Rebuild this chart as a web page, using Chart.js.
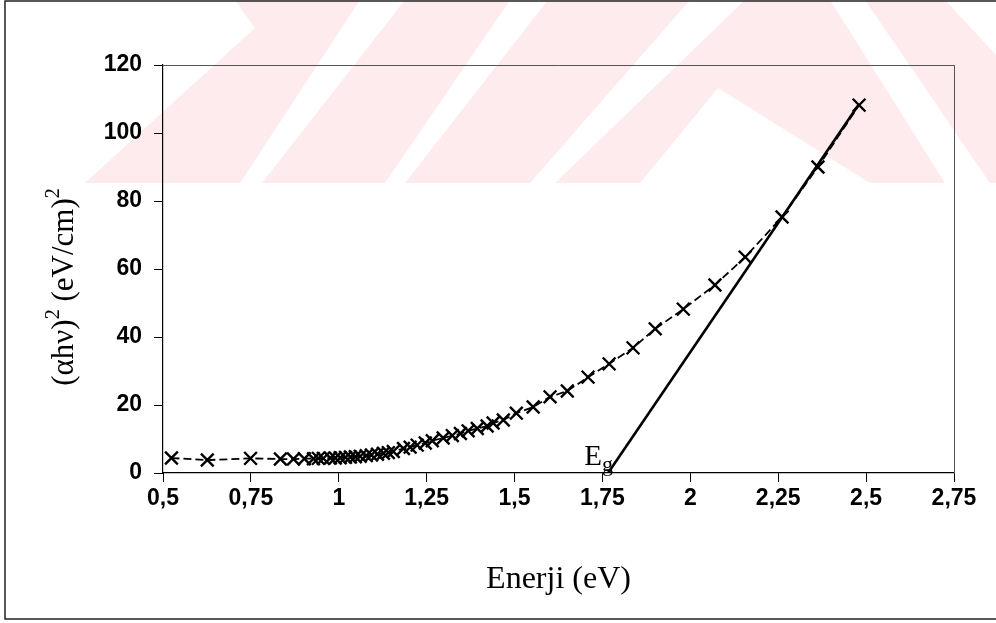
<!DOCTYPE html>
<html>
<head>
<meta charset="utf-8">
<script src="https://cdn.jsdelivr.net/npm/chart.js@4/dist/chart.umd.min.js"></script>
<style>
  html, body { margin: 0; padding: 0; background: #ffffff; }
  #wrap { width: 996px; height: 623px; position: relative; }
</style>
</head>
<body>
<div id="wrap"><canvas id="c" width="996" height="623"></canvas></div>
<script>
// ---- data ----
const energy = [
  0.524, 0.626, 0.749, 0.834, 0.871,
  0.902, 0.928, 0.942, 0.956, 0.976, 0.990, 1.004, 1.019, 1.033, 1.047,
  1.061, 1.078, 1.093, 1.110, 1.127, 1.141, 1.155, 1.184, 1.203, 1.223,
  1.246, 1.266, 1.297, 1.323, 1.346, 1.368, 1.394, 1.422, 1.439, 1.468,
  1.505, 1.553, 1.601, 1.650, 1.709, 1.769, 1.837, 1.900, 1.980, 2.070,
  2.156, 2.261, 2.363, 2.480
];
const alphaHv2 = [
  4.4, 3.8, 4.3, 4.1, 4.1,
  4.2, 4.2, 4.3, 4.3, 4.4, 4.4, 4.5, 4.6, 4.7, 4.8,
  4.9, 5.1, 5.3, 5.5, 5.8, 6.0, 6.3, 7.2, 7.6, 8.2,
  8.8, 9.5, 10.3, 11.0, 11.6, 12.4, 13.1, 13.8, 14.7, 15.6,
  17.6, 19.4, 22.4, 24.1, 28.2, 32.1, 36.8, 42.4, 48.2, 55.3,
  63.5, 75.3, 90.0, 108.2
];
const tangentEnergy = [1.766, 2.48];
const tangentValue = [0, 108.5];
const xTickLabels = ['0,5', '0,75', '1', '1,25', '1,5', '1,75', '2', '2,25', '2,5', '2,75'];
const yTickLabels = ['0', '20', '40', '60', '80', '100', '120'];
const xTitle = 'Enerji (eV)';
const yTitleParts = ['(αhν)', '2', ' (eV/cm)', '2'];
const egMain = 'E';
const egSub = 'g';

const dataPoints = energy.map((e, i) => ({ x: e, y: alphaHv2[i] }));
const tangentPoints = tangentEnergy.map((e, i) => ({ x: e, y: tangentValue[i] }));

const serif = '"Liberation Serif", "Times New Roman", serif';

// ---- decoration plugin (background watermark, frames, y title, Eg label) ----
const deco = {
  id: 'deco',
  beforeDraw(chart) {
    const ctx = chart.ctx;
    ctx.save();
    ctx.fillStyle = '#ffffff';
    ctx.fillRect(0, 0, chart.width, chart.height);
    ctx.fillStyle = '#fdebee';
    const polys = [
      [[235,0],[360,0],[240,183],[85,183],[255,28]],
      [[405,0],[510,0],[385,183],[262,183]],
      [[548,0],[690,0],[530,183],[405,183]],
      [[745,0],[830,0],[945,183],[870,183],[718,88],[640,183],[555,183]],
      [[865,0],[945,0],[996,55],[996,183],[990,183]]
    ];
    for (const p of polys) {
      ctx.beginPath();
      ctx.moveTo(p[0][0], p[0][1]);
      for (let i = 1; i < p.length; i++) ctx.lineTo(p[i][0], p[i][1]);
      ctx.closePath();
      ctx.fill();
    }
    // outer frame
    ctx.strokeStyle = '#222222';
    ctx.lineWidth = 1.5;
    ctx.beginPath();
    ctx.moveTo(996, 1); ctx.lineTo(5, 1); ctx.lineTo(5, 619); ctx.lineTo(996, 619);
    ctx.stroke();
    ctx.restore();
  },
  afterDatasetsDraw(chart) {
    const ctx = chart.ctx;
    const a = chart.chartArea;
    ctx.save();
    ctx.strokeStyle = '#555555';
    ctx.lineWidth = 1;
    ctx.beginPath();
    ctx.moveTo(a.left, a.top + 0.5); ctx.lineTo(a.right + 0.5, a.top + 0.5); ctx.lineTo(a.right + 0.5, a.bottom);
    ctx.stroke();

    // y axis title with true superscripts
    ctx.fillStyle = '#000000';
    ctx.textBaseline = 'middle';
    ctx.textAlign = 'left';
    const big = '31px ' + serif, small = '20px ' + serif;
    const widths = yTitleParts.map((t, i) => { ctx.font = (i % 2 ? small : big); return ctx.measureText(t).width; });
    const total = widths.reduce((s, w) => s + w, 0);
    ctx.translate(65, (a.top + a.bottom) / 2 + 18);
    ctx.rotate(-Math.PI / 2);
    let cx = -total / 2;
    yTitleParts.forEach((t, i) => {
      ctx.font = (i % 2 ? small : big);
      ctx.fillText(t, cx, i % 2 ? -11 : 0);
      cx += widths[i];
    });
    ctx.setTransform(1, 0, 0, 1, 0, 0);

    // Eg label
    const xs = chart.scales.x, ys = chart.scales.y;
    const px = xs.getPixelForValue(tangentEnergy[0]);
    const py = ys.getPixelForValue(tangentValue[0]);
    ctx.textBaseline = 'alphabetic';
    ctx.textAlign = 'right';
    ctx.font = '29px ' + serif;
    ctx.fillText(egMain, px - 6, py - 8);
    ctx.textAlign = 'left';
    ctx.font = '22px ' + serif;
    ctx.fillText(egSub, px - 6, py - 2);
    ctx.restore();
  }
};

const tickFont = { family: '"Liberation Sans", Arial, sans-serif', size: 23, weight: 'bold' };
const titleFont = { family: serif, size: 32 };

new Chart(document.getElementById('c'), {
  type: 'scatter',
  data: {
    datasets: [
      {
        data: dataPoints,
        showLine: true,
        borderColor: '#000000',
        borderWidth: 1.8,
        borderDash: [8, 4],
        pointStyle: 'crossRot',
        pointRadius: 9,
        pointBorderWidth: 2.4,
        pointBorderColor: '#000000',
        pointBackgroundColor: '#000000',
        tension: 0
      },
      {
        data: tangentPoints,
        showLine: true,
        borderColor: '#000000',
        borderWidth: 2.6,
        pointRadius: 0,
        tension: 0
      }
    ]
  },
  options: {
    responsive: false,
    animation: false,
    events: [],
    layout: { padding: { left: 0, top: 65, right: 42, bottom: 0 } },
    plugins: { legend: { display: false }, tooltip: { enabled: false } },
    scales: {
      x: {
        type: 'linear',
        min: 0.5, max: 2.75,
        afterBuildTicks(scale) {
          scale.ticks = xTickLabels.map((l, i) => ({ value: 0.5 + 0.25 * i }));
        },
        afterFit(scale) { scale.height = 150; },
        ticks: {
          color: '#000000', font: tickFont, padding: 3, maxRotation: 0,
          autoSkip: false,
          callback: (v, i) => xTickLabels[i]
        },
        grid: { drawOnChartArea: false, drawTicks: true, tickLength: 9, color: '#000000', lineWidth: 1 },
        border: { display: true, color: '#000000', width: 1.2 },
        title: { display: true, text: xTitle, color: '#000000', font: titleFont, padding: { top: 10, bottom: 24 } }
      },
      y: {
        type: 'linear',
        min: 0, max: 120,
        afterBuildTicks(scale) {
          scale.ticks = yTickLabels.map((l, i) => ({ value: 20 * i }));
        },
        afterFit(scale) { scale.width = 163; },
        ticks: {
          color: '#000000', font: tickFont, padding: 12,
          callback: (v, i) => yTickLabels[i]
        },
        grid: { drawOnChartArea: false, drawTicks: true, tickLength: 9, color: '#000000', lineWidth: 1 },
        border: { display: true, color: '#000000', width: 1.2 },
        title: { display: false }
      }
    }
  },
  plugins: [deco]
});
</script>
</body>
</html>
